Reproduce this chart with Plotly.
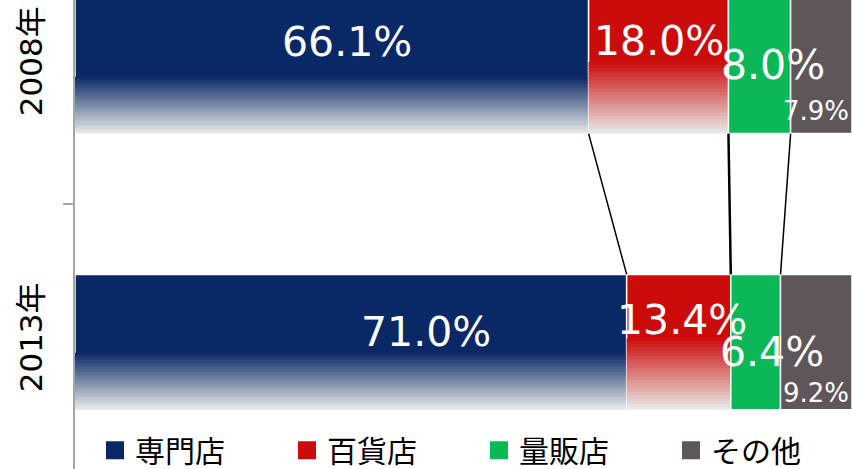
import plotly.graph_objects as go

# data
years = ['2008年', '2013年']
channels = ['専門店', '百貨店', '量販店', 'その他']
share_2008 = [66.1, 18.0, 8.0, 7.9]
share_2013 = [71.0, 13.4, 6.4, 9.2]

# styles
colors = ['#0b2866', '#cc0b0b', '#0bb857', '#5e5658']
fade_start = [0.58, 0.47, None, None]   # where the bottom fade begins (fraction of bar height)
fade_end = (233, 237, 234)
label_size = [41, 41, 41, 26]
shift_2008 = [(15, 24), (0, 25), (13, 1), (-5, -45)]
shift_2013 = [(75, 10), (3, 22), (16, -10), (0, -51)]
legend_w = [147, 147, 147, 136]
bar_w = 0.49
n_slices = 24
font = 'DejaVu Sans, Noto Sans CJK JP'


def hex_rgb(h):
    h = h.lstrip('#')
    return tuple(int(h[i:i + 2], 16) for i in (0, 2, 4))


def cum_start(vals):
    out, s = [], 0
    for v in vals:
        out.append(s)
        s += v
    return out


start_2008 = cum_start(share_2008)
start_2013 = cum_start(share_2013)

fig = go.Figure()

for i, name in enumerate(channels):
    vals = [share_2008[i], share_2013[i]]
    base = [start_2008[i], start_2013[i]]
    fig.add_trace(go.Bar(
        y=years, x=vals, base=base, orientation='h',
        width=bar_w, marker=dict(color=colors[i], line=dict(color='white', width=1.5)),
        showlegend=False, hoverinfo='skip',
    ))
    # fake the vertical gradient with thin slices
    if fade_start[i] is not None:
        c0 = hex_rgb(colors[i])
        f = fade_start[i]
        step = bar_w * (1 - f) / n_slices
        for k in range(n_slices):
            t = (k + 0.5) / n_slices
            c = tuple(round(c0[j] + (fade_end[j] - c0[j]) * t) for j in range(3))
            off = -bar_w / 2 + bar_w * f + k * step
            w = step * 1.3 if k < n_slices - 1 else step
            fig.add_trace(go.Bar(
                y=years, x=vals, base=base, orientation='h',
                width=w, offset=off,
                marker=dict(color='rgb(%d,%d,%d)' % c, line=dict(width=0)),
                showlegend=False, hoverinfo='skip',
            ))

# legend entries
for i, name in enumerate(channels):
    fig.add_trace(go.Scatter(
        x=[None], y=[None], mode='markers', name=name, legendwidth=legend_w[i],
        marker=dict(symbol='square', size=16, color=colors[i],
                    line=dict(color=colors[i], width=2)),
    ))

# value labels
for vals, starts, yr, shifts in [(share_2008, start_2008, years[0], shift_2008),
                                 (share_2013, start_2013, years[1], shift_2013)]:
    for i, v in enumerate(vals):
        fig.add_annotation(
            x=starts[i] + v / 2, y=yr, text='%.1f%%' % v, showarrow=False,
            xshift=shifts[i][0], yshift=shifts[i][1],
            font=dict(family=font, size=label_size[i], color='white'),
        )

# connector lines between the two bars
end_2008 = [s + v for s, v in zip(start_2008, share_2008)]
end_2013 = [s + v for s, v in zip(start_2013, share_2013)]
for i in range(3):
    fig.add_shape(type='line', xref='x', yref='y',
                  x0=end_2008[i], y0=0 + bar_w / 2, x1=end_2013[i], y1=1 - bar_w / 2,
                  line=dict(color='black', width=2.5 if i == 1 else 1.5))

fig.update_layout(
    width=852, height=469,
    margin=dict(l=75, r=0, t=0, b=0, autoexpand=False),
    paper_bgcolor='white', plot_bgcolor='white',
    barmode='overlay',
    font=dict(family=font, color='black', size=30),
    showlegend=True,
    legend=dict(
        orientation='h', x=1, xanchor='right', y=0.04, yanchor='middle',
        bgcolor='rgba(0,0,0,0)', entrywidth=147, entrywidthmode='pixels',
        font=dict(size=30, family=font), traceorder='normal',
    ),
    xaxis=dict(range=[0, 100], visible=False, fixedrange=True),
    yaxis=dict(
        type='category', categoryorder='array', categoryarray=years,
        range=[1.46, -0.239], automargin=False,
        showline=True, linecolor='#a6a6a6', linewidth=2,
        ticks='outside', tickson='boundaries', ticklen=10, tickcolor='#a6a6a6', tickwidth=2,
        tickangle=-90, tickfont=dict(size=31, family=font, color='black'),
        ticklabelstandoff=19, showgrid=False, zeroline=False,
    ),
)

fig.write_html('out.html', config={'displayModeBar': False},
               post_script="document.body.style.margin='0';document.body.style.overflow='hidden';")
